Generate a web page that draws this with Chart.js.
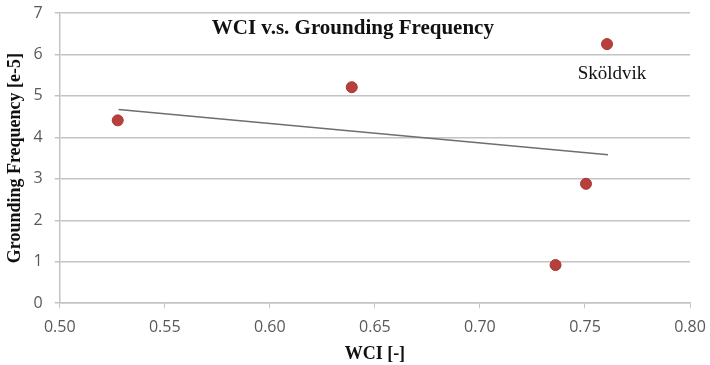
<!DOCTYPE html>
<html>
<head>
<meta charset="utf-8">
<script src="https://cdn.jsdelivr.net/npm/chart.js@4/dist/chart.umd.min.js"></script>
<style>
  html, body { margin: 0; padding: 0; background: #fff; }
  #wrap { width: 710px; height: 365px; }
</style>
</head>
<body>
<div id="wrap"><canvas id="chart"></canvas></div>
<script>
// WCI vs grounding frequency
const wci = [0.5276, 0.639, 0.7605, 0.7505, 0.736];
const frequency = [4.41, 5.21, 6.25, 2.88, 0.92];
// trend line end points
const trend_x = [0.528, 0.761];
const trend_y = [4.67, 3.58];
const x_ticks = [0.50, 0.55, 0.60, 0.65, 0.70, 0.75, 0.80];
const y_ticks = [0, 1, 2, 3, 4, 5, 6, 7];

const title_text = 'WCI v.s. Grounding Frequency';
const note_text = 'Sköldvik';

const points = wci.map((x, i) => ({x: x, y: frequency[i]}));
const trend = trend_x.map((x, i) => ({x: x, y: trend_y[i]}));

const tickColor = '#595959';
const gridColor = '#c4c4c4';

// draws the title inside the plot and the label next to the top point
const textPlugin = {
    id: 'innerText',
    afterDatasetsDraw(chart) {
        const ctx = chart.ctx;
        const xs = chart.scales.x;
        const ys = chart.scales.y;
        ctx.save();
        ctx.fillStyle = '#111';
        ctx.textBaseline = 'middle';
        ctx.textAlign = 'center';
        ctx.font = 'bold 21px "Liberation Serif", serif';
        ctx.fillText(title_text, xs.getPixelForValue(0.6395), ys.getPixelForValue(6.63));
        ctx.font = '19px "Liberation Serif", serif';
        ctx.fillText(note_text, xs.getPixelForValue(0.7629), ys.getPixelForValue(5.52));
        ctx.restore();
    }
};

const context = document.getElementById('chart');

const config = {
    type: 'scatter',
    data: {
        datasets: [{
            label: 'Trend',
            data: trend,
            showLine: true,
            borderColor: '#6e6e6e',
            borderWidth: 1.5,
            pointRadius: 0,
            order: 2
        }, {
            label: 'WCI',
            data: points,
            backgroundColor: '#b8403c',
            borderColor: '#a83430',
            borderWidth: 1,
            pointRadius: 5.5,
            order: 1
        }]
    },
    options: {
        responsive: true,
        maintainAspectRatio: false,
        animation: false,
        layout: {
            padding: {top: 13, right: 20, bottom: 0, left: 5}
        },
        plugins: {
            legend: {display: false},
            tooltip: {enabled: false}
        },
        scales: {
            x: {
                type: 'linear',
                min: 0.5,
                max: 0.8,
                afterBuildTicks: axis => {
                    axis.ticks = x_ticks.map(v => ({value: v}));
                },
                afterFit: axis => {
                    axis.paddingLeft = 0;
                    axis.paddingRight = 0;
                },
                ticks: {
                    color: tickColor,
                    font: {family: '"Open Sans", sans-serif', size: 16},
                    padding: 10,
                    callback: v => v.toFixed(2)
                },
                grid: {
                    display: true,
                    drawOnChartArea: false,
                    drawTicks: true,
                    tickLength: 5,
                    color: gridColor
                },
                border: {color: gridColor, width: 1.5},
                title: {
                    display: true,
                    text: 'WCI [-]',
                    color: '#111',
                    font: {family: '"Liberation Serif", serif', size: 18, weight: 'bold'},
                    padding: {top: -4, bottom: 0}
                }
            },
            y: {
                min: 0,
                max: 7,
                afterBuildTicks: axis => {
                    axis.ticks = y_ticks.map(v => ({value: v}));
                },
                afterFit: axis => {
                    axis.paddingTop = 0;
                    axis.paddingBottom = 0;
                },
                ticks: {
                    color: tickColor,
                    font: {family: '"Open Sans", sans-serif', size: 16},
                    padding: 12
                },
                grid: {
                    color: gridColor,
                    lineWidth: 1.5,
                    tickLength: 5
                },
                border: {color: gridColor, width: 1.5},
                title: {
                    display: true,
                    text: 'Grounding Frequency [e-5]',
                    color: '#111',
                    font: {family: '"Liberation Serif", serif', size: 18, weight: 'bold'},
                    padding: {top: 0, bottom: -5}
                }
            }
        }
    },
    plugins: [textPlugin]
};

const chart = new Chart(context, config);
</script>
</body>
</html>
